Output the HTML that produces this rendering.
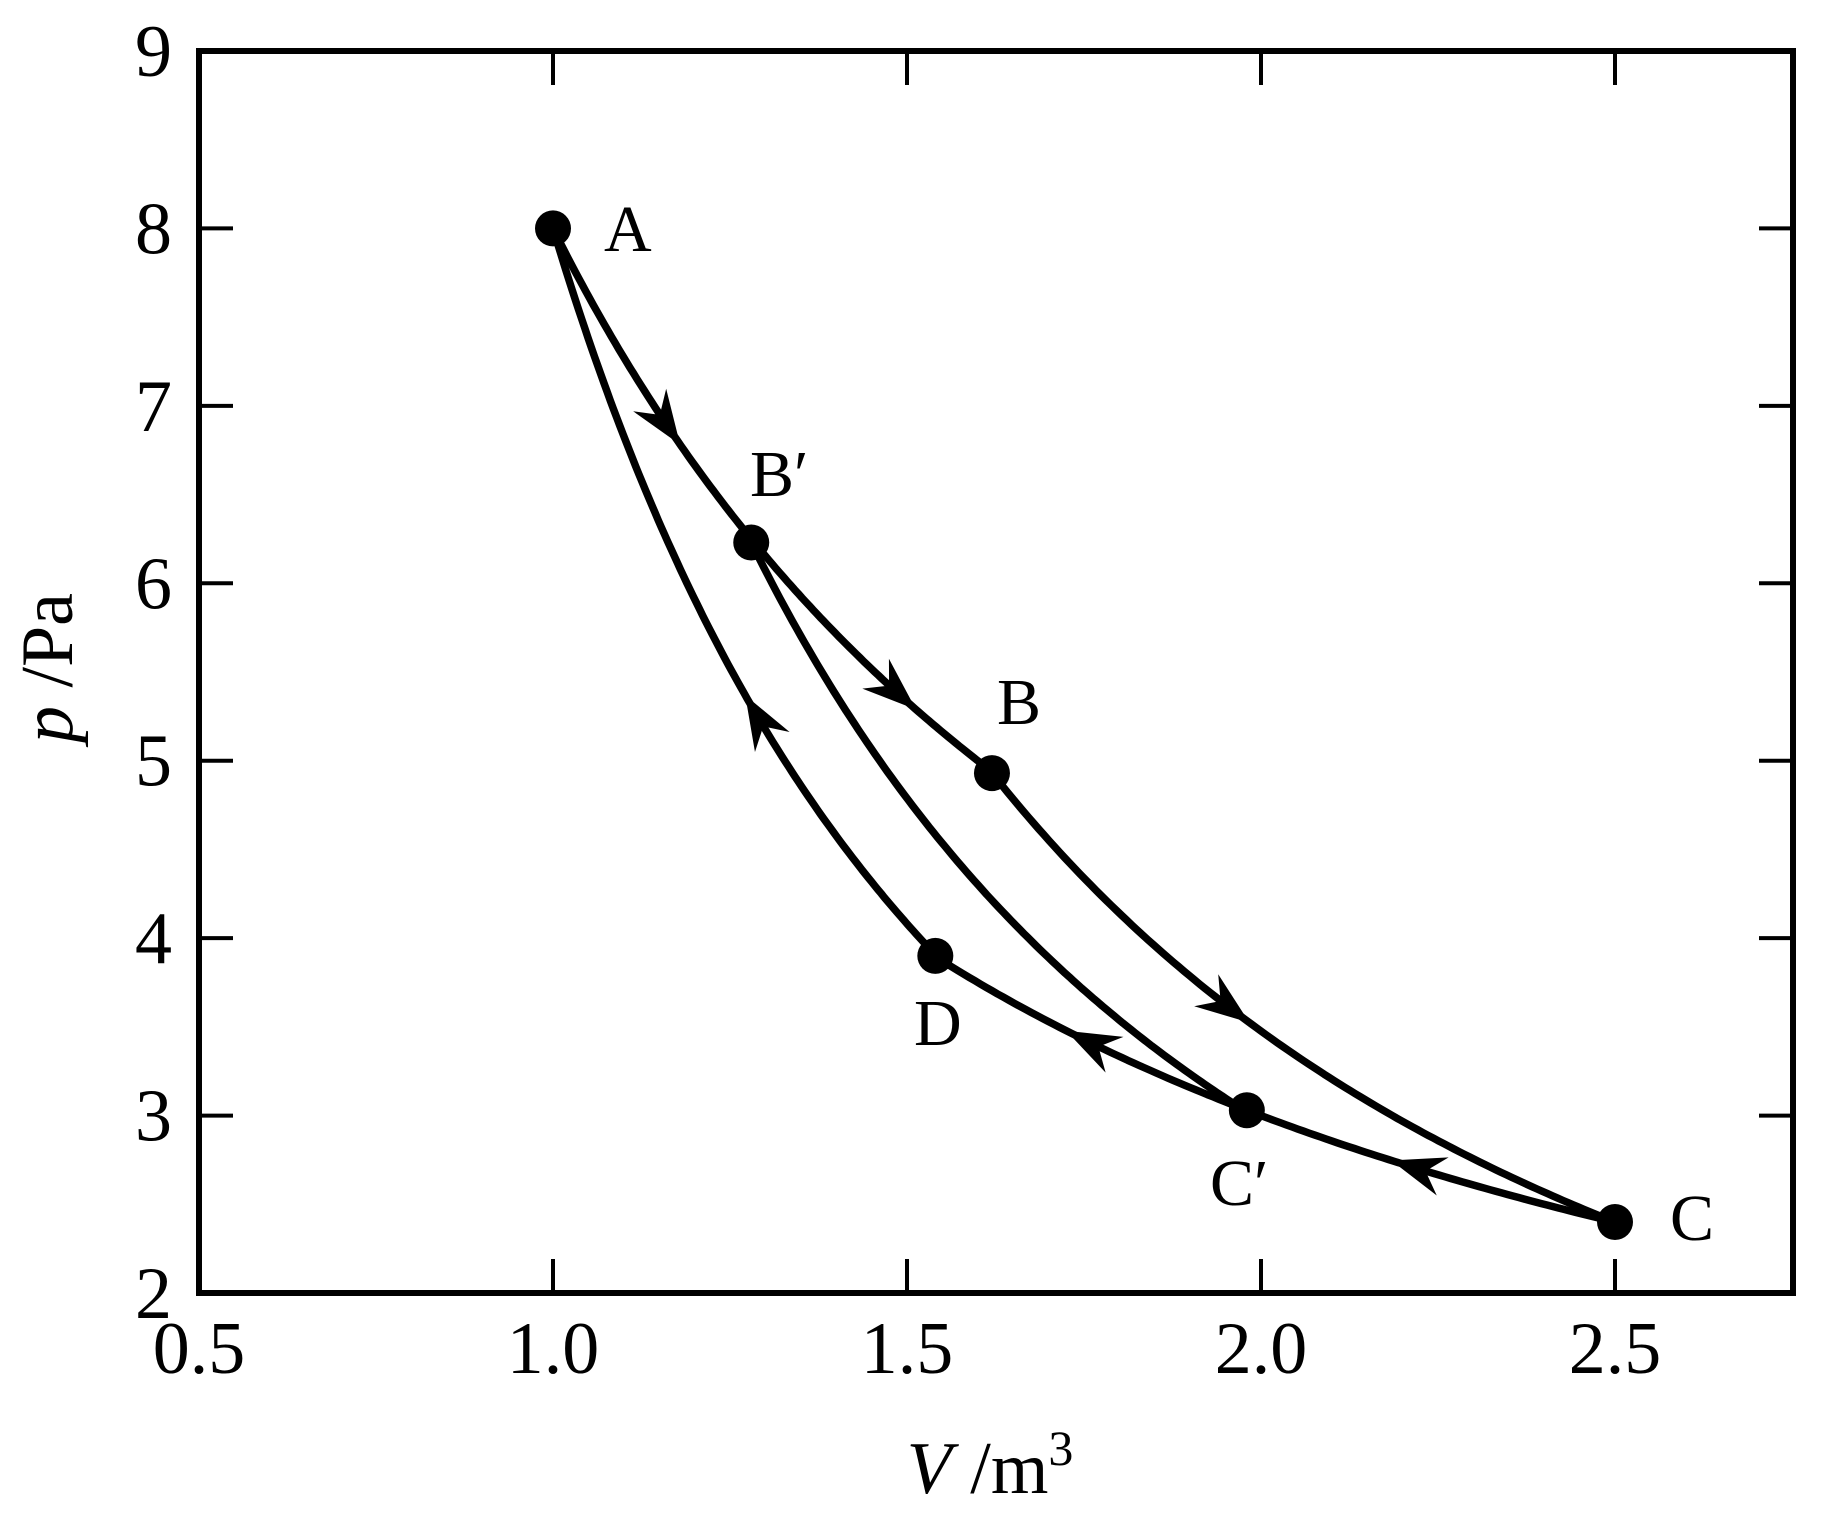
<!DOCTYPE html>
<html><head><meta charset="utf-8"><style>
html,body{margin:0;padding:0;background:#fff}
svg{display:block}
text{font-family:"Liberation Serif","Times New Roman",serif;fill:#000}
</style></head><body>
<svg id="s" width="1830" height="1518" viewBox="0 0 1830 1518" xmlns="http://www.w3.org/2000/svg" font-family="Liberation Serif, serif">
<rect x="199" y="51" width="1594" height="1242" fill="none" stroke="#000" stroke-width="6"/>
<g id="ticks" stroke="#000" stroke-width="4"></g>
<g font-size="74" text-anchor="end" id="yl" font-family="Liberation Serif, serif"></g>
<g font-size="74" text-anchor="middle" id="xl" font-family="Liberation Serif, serif"></g>
<g id="curves" fill="none" stroke="#000" stroke-width="7.5" stroke-linejoin="round"></g>
<g id="arrows" fill="#000"></g>
<g id="dots" fill="#000"></g>
<g font-size="66" font-family="Liberation Serif, serif">
<text x="604" y="251">A</text>
<text x="750" y="496">B′</text>
<text x="997" y="724">B</text>
<text x="914" y="1045">D</text>
<text x="1210" y="1205">C′</text>
<text x="1670" y="1240">C</text>
</g>
<text x="990" y="1493" font-size="74" text-anchor="middle" font-family="Liberation Serif, serif"><tspan font-style="italic">V</tspan> /m<tspan font-size="50" dy="-28">3</tspan></text>
<text transform="translate(72,668) rotate(-90)" font-size="74" text-anchor="middle" font-family="Liberation Serif, serif"><tspan font-style="italic">p</tspan> /Pa</text>
</svg>
<script>
const NS="http://www.w3.org/2000/svg";
const X=v=>199+(v-0.5)*708, Y=p=>51+(9-p)*177.43;
function el(g,t,a){const e=document.createElementNS(NS,t);for(const k in a)e.setAttribute(k,a[k]);document.getElementById(g).appendChild(e);return e;}
for(let p=3;p<=8;p++){el("ticks","line",{x1:199,x2:233,y1:Y(p),y2:Y(p)});el("ticks","line",{x1:1793,x2:1759,y1:Y(p),y2:Y(p)});}
for(let p=2;p<=9;p++){el("yl","text",{x:172,y:Y(p)+25}).textContent=p;}
[1.0,1.5,2.0,2.5].forEach(v=>{el("ticks","line",{x1:X(v),x2:X(v),y1:1293,y2:1259});el("ticks","line",{x1:X(v),x2:X(v),y1:51,y2:85});});
[0.5,1.0,1.5,2.0,2.5].forEach(v=>{el("xl","text",{x:X(v),y:1373}).textContent=v.toFixed(1);});
const g=1.66;
function curve(v1,v2,f){let d="";const n=120;for(let i=0;i<=n;i++){const v=v1+(v2-v1)*i/n;d+=(i?"L":"M")+X(v).toFixed(1)+","+Y(f(v)).toFixed(1);}el("curves","path",{d});}
const iso8=v=>8/v, iso6=v=>6/v;
const adBC=v=>2.4*Math.pow(2.5/v,g), adAD=v=>8*Math.pow(1/v,g), adBpCp=v=>6.23*Math.pow(1.28/v,g);
curve(1.0,1.62,iso8);
curve(1.62,2.5,adBC);
curve(1.28,1.98,adBpCp);
curve(1.0,1.54,adAD);
curve(1.54,2.5,iso6);
function arrow(v,f,dir){const x=X(v),y=Y(f(v));const x2=X(v+0.001*dir),y2=Y(f(v+0.001*dir));let dx=x2-x,dy=y2-y;const l=Math.hypot(dx,dy);dx/=l;dy/=l;const nx=-dy,ny=dx;
const L=54,W=20,N=36;
const pts=[[x+dx*12,y+dy*12],[x-dx*(L-12)+nx*W,y-dy*(L-12)+ny*W],[x-dx*(N-12),y-dy*(N-12)],[x-dx*(L-12)-nx*W,y-dy*(L-12)-ny*W]];
el("arrows","polygon",{points:pts.map(p=>p.join(",")).join(" ")});}
arrow(1.17,iso8,1);
arrow(1.50,iso8,1);
arrow(1.97,adBC,1);
arrow(1.28,adAD,-1);
arrow(2.2,iso6,-1);
arrow(1.74,iso6,-1);
[[1.0,8],[1.28,6.23],[1.62,4.93],[2.5,2.4],[1.98,3.03],[1.54,3.9]].forEach(([v,p])=>el("dots","circle",{cx:X(v),cy:Y(p),r:18}));
</script>
</body></html>
